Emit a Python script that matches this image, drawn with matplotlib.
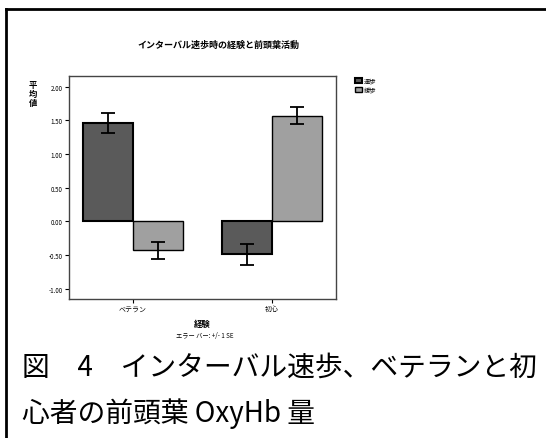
import numpy as np
import matplotlib
matplotlib.use('Agg')
import matplotlib.pyplot as plt
from matplotlib.lines import Line2D

plt.rcParams['font.family'] = ['Noto Sans CJK JP', 'DejaVu Sans']

# mean OxyHb per group, two conditions, +/- 1 SE
groups = ['ベテラン', '初心']
series_names = ['速歩', '緩歩']
means_a = [1.46, -0.49]
means_b = [-0.43, 1.57]
se_a = [0.15, 0.16]
se_b = [0.13, 0.13]
yticks = [-1.00, -0.50, 0.00, 0.50, 1.00, 1.50, 2.00]

fig = plt.figure(figsize=(5.46, 4.39), dpi=100)

# outer frame of the figure panel
fig.add_artist(Line2D([0.011, 0.011], [0.0, 0.978], color='black', lw=2))
fig.add_artist(Line2D([0.011, 1.0], [0.978, 0.978], color='black', lw=2))

ax = fig.add_axes([0.126, 0.317, 0.489, 0.508])
x = np.arange(len(groups))
w = 0.36
err_kw = dict(ecolor='black', capsize=5, elinewidth=1.3, capthick=1.3)
ax.bar(x - w / 2, means_a, w, yerr=se_a, color='#5a5a5a', edgecolor='black',
       linewidth=1.5, error_kw=err_kw, label=series_names[0])
ax.bar(x + w / 2, means_b, w, yerr=se_b, color='#a0a0a0', edgecolor='black',
       linewidth=1.0, error_kw=err_kw, label=series_names[1])

ax.set_xlim(-0.46, 1.46)
ax.set_ylim(-1.15, 2.16)
ax.set_yticks(yticks)
ax.set_yticklabels([f'{v:.2f}' for v in yticks], fontsize=4.5)
ax.set_xticks(x)
ax.set_xticklabels(groups, fontsize=5)
ax.tick_params(axis='y', length=3, width=0.8, pad=1.5)
ax.tick_params(axis='x', length=3, width=0.8, pad=1.5)
for sp in ax.spines.values():
    sp.set_linestyle((0, (1, 1)))
    sp.set_color('#444444')
    sp.set_linewidth(1.0)

ax.set_xlabel('経験', fontsize=6, fontweight='bold', labelpad=4)
fig.text(0.06, 0.785, '平\n均\n値', fontsize=6, fontweight='bold',
         ha='center', va='center', linespacing=1.0)
fig.text(0.375, 0.235, 'エラー バー: +/- 1 SE', fontsize=4.5,
         ha='center', va='center')
fig.text(0.4, 0.897, 'インターバル速歩時の経験と前頭葉活動', fontsize=6.5,
         fontweight='bold', ha='center', va='center')

fig.legend(loc='upper left', bbox_to_anchor=(0.645, 0.83), frameon=False,
           fontsize=4.5, handlelength=1.0, handleheight=0.8,
           handletextpad=0.3, labelspacing=0.1, borderpad=0)

fig.text(0.04, 0.162, '図　4　インターバル速歩、ベテランと初', fontsize=20,
         ha='left', va='center')
fig.text(0.04, 0.058, '心者の前頭葉 OxyHb 量', fontsize=20,
         ha='left', va='center')

fig.savefig('out.png', dpi=100)
